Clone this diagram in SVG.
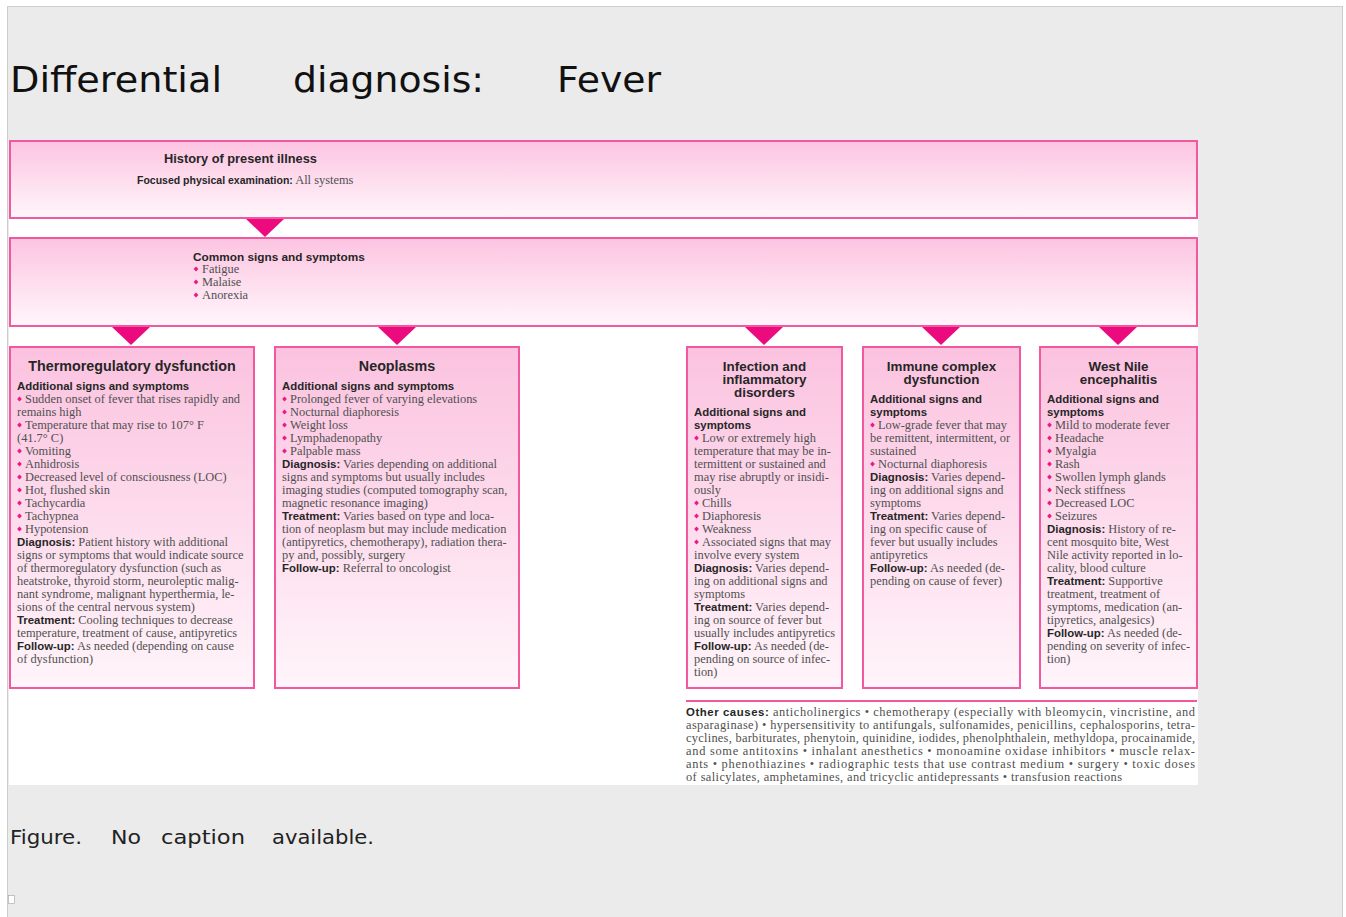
<svg xmlns="http://www.w3.org/2000/svg" xmlns:xlink="http://www.w3.org/1999/xlink" width="1346" height="917" viewBox="0 0 1346 917">
  <defs>
    <linearGradient id="gHead" x1="0" y1="0" x2="0" y2="1">
      <stop offset="0" stop-color="#fcc4e1"/>
      <stop offset="1" stop-color="#fff6fa"/>
    </linearGradient>
    <linearGradient id="gBox" x1="0" y1="0" x2="0" y2="1">
      <stop offset="0" stop-color="#fbc2df"/>
      <stop offset="1" stop-color="#fff5fa"/>
    </linearGradient>
    <path id="dot" d="M0,-2.4L2.4,0L0,2.4L-2.4,0Z" fill="#ec1a84"/>
  </defs>
  <style>
    .page{fill:#ebebeb;stroke:#cdcdcd;stroke-width:1}
    .box{fill:url(#gBox);stroke:#f2579f;stroke-width:2}
    .head{fill:url(#gHead);stroke:#f2579f;stroke-width:2}
    .tri{fill:#ec0b7f}
    .rule{stroke:#f2579f;stroke-width:2}
    .title{font-family:'Liberation Sans',Arial,sans-serif;font-weight:bold;font-size:14.3px;fill:#262626;text-anchor:middle}
    .title2{font-family:'Liberation Sans',Arial,sans-serif;font-weight:bold;font-size:13.4px;fill:#262626;text-anchor:middle}
    .lab{font-family:'Liberation Sans',Arial,sans-serif;font-weight:bold;font-size:11.4px;fill:#262626}
    .body{font-family:'Liberation Serif','Times New Roman',serif;font-size:12.4px;fill:#505050}
    .big{font-family:'DejaVu Sans',Verdana,sans-serif;font-size:35px;fill:#111}
    .cap{font-family:'DejaVu Sans',Verdana,sans-serif;font-size:20px;fill:#222}
  </style>

  <!-- page -->
  <rect x="0" y="0" width="1346" height="917" fill="#ffffff"/>
  <rect class="page" x="7.5" y="6.5" width="1335" height="920"/>
  <text class="big" y="92"><tspan x="10" textLength="212" lengthAdjust="spacingAndGlyphs">Differential</tspan><tspan x="293" textLength="191" lengthAdjust="spacingAndGlyphs">diagnosis:</tspan><tspan x="557" textLength="104" lengthAdjust="spacingAndGlyphs">Fever</tspan></text>

  <!-- figure area -->
  <rect x="9" y="140" width="1189" height="645" fill="#ffffff"/>

  <!-- connectors -->
  <g id="connectors">
    <polygon class="tri" points="246,219 284,219 265,237"/>
    <polygon class="tri" points="112,327 150,327 131,345"/>
    <polygon class="tri" points="378,327 416,327 397,345"/>
    <polygon class="tri" points="745,327 783,327 764,345"/>
    <polygon class="tri" points="922,327 960,327 941,345"/>
    <polygon class="tri" points="1099,327 1137,327 1118,345"/>
  </g>

  <g id="history">
    <rect class="head" x="10" y="141" width="1187" height="77"/>
    <text class="lab" x="164" y="163" style="font-size:12.8px">History of present illness</text>
    <text class="body" x="137" y="184"><tspan class="lab" style="font-size:10.5px">Focused physical examination:</tspan> All systems</text>
  </g>

  <g id="common">
    <rect class="head" x="10" y="238" width="1187" height="88"/>
    <text class="lab" x="193" y="261" style="font-size:11.8px">Common signs and symptoms</text>
    <use href="#dot" x="196" y="269"/>
    <use href="#dot" x="196" y="282"/>
    <use href="#dot" x="196" y="295"/>
    <text class="body" x="202" y="273">Fatigue</text>
    <text class="body" x="202" y="286">Malaise</text>
    <text class="body" x="202" y="299">Anorexia</text>
  </g>

  <g id="thermoregulatory">
    <rect class="box" x="10" y="347" width="244" height="341"/>
    <text class="title" x="132" y="371">Thermoregulatory dysfunction</text>
    <text class="lab" x="17" y="390">Additional signs and symptoms</text>
    <use href="#dot" x="19.5" y="399"/>
    <use href="#dot" x="19.5" y="425"/>
    <use href="#dot" x="19.5" y="451"/>
    <use href="#dot" x="19.5" y="464"/>
    <use href="#dot" x="19.5" y="477"/>
    <use href="#dot" x="19.5" y="490"/>
    <use href="#dot" x="19.5" y="503"/>
    <use href="#dot" x="19.5" y="516"/>
    <use href="#dot" x="19.5" y="529"/>
    <text class="body" x="25" y="403">Sudden onset of fever that rises rapidly and</text>
    <text class="body" x="17" y="416">remains high</text>
    <text class="body" x="25" y="429">Temperature that may rise to 107° F</text>
    <text class="body" x="17" y="442">(41.7° C)</text>
    <text class="body" x="25" y="455">Vomiting</text>
    <text class="body" x="25" y="468">Anhidrosis</text>
    <text class="body" x="25" y="481">Decreased level of consciousness (LOC)</text>
    <text class="body" x="25" y="494">Hot, flushed skin</text>
    <text class="body" x="25" y="507">Tachycardia</text>
    <text class="body" x="25" y="520">Tachypnea</text>
    <text class="body" x="25" y="533">Hypotension</text>
    <text class="body" x="17" y="546"><tspan class="lab">Diagnosis:</tspan> Patient history with additional</text>
    <text class="body" x="17" y="559">signs or symptoms that would indicate source</text>
    <text class="body" x="17" y="572">of thermoregulatory dysfunction (such as</text>
    <text class="body" x="17" y="585">heatstroke, thyroid storm, neuroleptic malig-</text>
    <text class="body" x="17" y="598">nant syndrome, malignant hyperthermia, le-</text>
    <text class="body" x="17" y="611">sions of the central nervous system)</text>
    <text class="body" x="17" y="624"><tspan class="lab">Treatment:</tspan> Cooling techniques to decrease</text>
    <text class="body" x="17" y="637">temperature, treatment of cause, antipyretics</text>
    <text class="body" x="17" y="650"><tspan class="lab">Follow-up:</tspan> As needed (depending on cause</text>
    <text class="body" x="17" y="663">of dysfunction)</text>
  </g>

  <g id="neoplasms">
    <rect class="box" x="275" y="347" width="244" height="341"/>
    <text class="title" x="397" y="371">Neoplasms</text>
    <text class="lab" x="282" y="390">Additional signs and symptoms</text>
    <use href="#dot" x="284.5" y="399"/>
    <use href="#dot" x="284.5" y="412"/>
    <use href="#dot" x="284.5" y="425"/>
    <use href="#dot" x="284.5" y="438"/>
    <use href="#dot" x="284.5" y="451"/>
    <text class="body" x="290" y="403">Prolonged fever of varying elevations</text>
    <text class="body" x="290" y="416">Nocturnal diaphoresis</text>
    <text class="body" x="290" y="429">Weight loss</text>
    <text class="body" x="290" y="442">Lymphadenopathy</text>
    <text class="body" x="290" y="455">Palpable mass</text>
    <text class="body" x="282" y="468"><tspan class="lab">Diagnosis:</tspan> Varies depending on additional</text>
    <text class="body" x="282" y="481">signs and symptoms but usually includes</text>
    <text class="body" x="282" y="494">imaging studies (computed tomography scan,</text>
    <text class="body" x="282" y="507">magnetic resonance imaging)</text>
    <text class="body" x="282" y="520"><tspan class="lab">Treatment:</tspan> Varies based on type and loca-</text>
    <text class="body" x="282" y="533">tion of neoplasm but may include medication</text>
    <text class="body" x="282" y="546">(antipyretics, chemotherapy), radiation thera-</text>
    <text class="body" x="282" y="559">py and, possibly, surgery</text>
    <text class="body" x="282" y="572"><tspan class="lab">Follow-up:</tspan> Referral to oncologist</text>
  </g>

  <g id="infection">
    <rect class="box" x="687" y="347" width="155" height="341"/>
    <text class="title2" x="764.5"><tspan x="764.5" y="371">Infection and</tspan><tspan x="764.5" y="384">inflammatory</tspan><tspan x="764.5" y="397">disorders</tspan></text>
    <text class="lab" x="694" y="416">Additional signs and</text>
    <text class="lab" x="694" y="429">symptoms</text>
    <use href="#dot" x="696.5" y="438"/>
    <use href="#dot" x="696.5" y="503"/>
    <use href="#dot" x="696.5" y="516"/>
    <use href="#dot" x="696.5" y="529"/>
    <use href="#dot" x="696.5" y="542"/>
    <text class="body" x="702" y="442">Low or extremely high</text>
    <text class="body" x="694" y="455">temperature that may be in-</text>
    <text class="body" x="694" y="468">termittent or sustained and</text>
    <text class="body" x="694" y="481">may rise abruptly or insidi-</text>
    <text class="body" x="694" y="494">ously</text>
    <text class="body" x="702" y="507">Chills</text>
    <text class="body" x="702" y="520">Diaphoresis</text>
    <text class="body" x="702" y="533">Weakness</text>
    <text class="body" x="702" y="546">Associated signs that may</text>
    <text class="body" x="694" y="559">involve every system</text>
    <text class="body" x="694" y="572"><tspan class="lab">Diagnosis:</tspan> Varies depend-</text>
    <text class="body" x="694" y="585">ing on additional signs and</text>
    <text class="body" x="694" y="598">symptoms</text>
    <text class="body" x="694" y="611"><tspan class="lab">Treatment:</tspan> Varies depend-</text>
    <text class="body" x="694" y="624">ing on source of fever but</text>
    <text class="body" x="694" y="637">usually includes antipyretics</text>
    <text class="body" x="694" y="650"><tspan class="lab">Follow-up:</tspan> As needed (de-</text>
    <text class="body" x="694" y="663">pending on source of infec-</text>
    <text class="body" x="694" y="676">tion)</text>
  </g>

  <g id="immune">
    <rect class="box" x="863" y="347" width="157" height="341"/>
    <text class="title2" x="941.5"><tspan x="941.5" y="371">Immune complex</tspan><tspan x="941.5" y="384">dysfunction</tspan></text>
    <text class="lab" x="870" y="403">Additional signs and</text>
    <text class="lab" x="870" y="416">symptoms</text>
    <use href="#dot" x="872.5" y="425"/>
    <use href="#dot" x="872.5" y="464"/>
    <text class="body" x="878" y="429">Low-grade fever that may</text>
    <text class="body" x="870" y="442">be remittent, intermittent, or</text>
    <text class="body" x="870" y="455">sustained</text>
    <text class="body" x="878" y="468">Nocturnal diaphoresis</text>
    <text class="body" x="870" y="481"><tspan class="lab">Diagnosis:</tspan> Varies depend-</text>
    <text class="body" x="870" y="494">ing on additional signs and</text>
    <text class="body" x="870" y="507">symptoms</text>
    <text class="body" x="870" y="520"><tspan class="lab">Treatment:</tspan> Varies depend-</text>
    <text class="body" x="870" y="533">ing on specific cause of</text>
    <text class="body" x="870" y="546">fever but usually includes</text>
    <text class="body" x="870" y="559">antipyretics</text>
    <text class="body" x="870" y="572"><tspan class="lab">Follow-up:</tspan> As needed (de-</text>
    <text class="body" x="870" y="585">pending on cause of fever)</text>
  </g>

  <g id="west-nile">
    <rect class="box" x="1040" y="347" width="157" height="341"/>
    <text class="title2" x="1118.5"><tspan x="1118.5" y="371">West Nile</tspan><tspan x="1118.5" y="384">encephalitis</tspan></text>
    <text class="lab" x="1047" y="403">Additional signs and</text>
    <text class="lab" x="1047" y="416">symptoms</text>
    <use href="#dot" x="1049.5" y="425"/>
    <use href="#dot" x="1049.5" y="438"/>
    <use href="#dot" x="1049.5" y="451"/>
    <use href="#dot" x="1049.5" y="464"/>
    <use href="#dot" x="1049.5" y="477"/>
    <use href="#dot" x="1049.5" y="490"/>
    <use href="#dot" x="1049.5" y="503"/>
    <use href="#dot" x="1049.5" y="516"/>
    <text class="body" x="1055" y="429">Mild to moderate fever</text>
    <text class="body" x="1055" y="442">Headache</text>
    <text class="body" x="1055" y="455">Myalgia</text>
    <text class="body" x="1055" y="468">Rash</text>
    <text class="body" x="1055" y="481">Swollen lymph glands</text>
    <text class="body" x="1055" y="494">Neck stiffness</text>
    <text class="body" x="1055" y="507">Decreased LOC</text>
    <text class="body" x="1055" y="520">Seizures</text>
    <text class="body" x="1047" y="533"><tspan class="lab">Diagnosis:</tspan> History of re-</text>
    <text class="body" x="1047" y="546">cent mosquito bite, West</text>
    <text class="body" x="1047" y="559">Nile activity reported in lo-</text>
    <text class="body" x="1047" y="572">cality, blood culture</text>
    <text class="body" x="1047" y="585"><tspan class="lab">Treatment:</tspan> Supportive</text>
    <text class="body" x="1047" y="598">treatment, treatment of</text>
    <text class="body" x="1047" y="611">symptoms, medication (an-</text>
    <text class="body" x="1047" y="624">tipyretics, analgesics)</text>
    <text class="body" x="1047" y="637"><tspan class="lab">Follow-up:</tspan> As needed (de-</text>
    <text class="body" x="1047" y="650">pending on severity of infec-</text>
    <text class="body" x="1047" y="663">tion)</text>
  </g>

  <g id="other-causes">
    <line class="rule" x1="686" y1="701" x2="1197" y2="701"/>
    <text class="body" x="686" y="716" textLength="509" lengthAdjust="spacing"><tspan class="lab">Other causes:</tspan> anticholinergics  •  chemotherapy (especially with bleomycin, vincristine, and</text>
    <text class="body" x="686" y="729" textLength="509" lengthAdjust="spacing">asparaginase)  •  hypersensitivity to antifungals, sulfonamides, penicillins, cephalosporins, tetra-</text>
    <text class="body" x="686" y="742" textLength="509" lengthAdjust="spacing">cyclines, barbiturates, phenytoin, quinidine, iodides, phenolphthalein, methyldopa, procainamide,</text>
    <text class="body" x="686" y="755" textLength="509" lengthAdjust="spacing">and some antitoxins  •  inhalant anesthetics  •  monoamine oxidase inhibitors  •  muscle relax-</text>
    <text class="body" x="686" y="768" textLength="509" lengthAdjust="spacing">ants  •  phenothiazines  •  radiographic tests that use contrast medium  •  surgery  •  toxic doses</text>
    <text class="body" x="686" y="781" textLength="436" lengthAdjust="spacing">of salicylates, amphetamines, and tricyclic antidepressants  •  transfusion reactions</text>
  </g>

  <!-- caption -->
  <text class="cap" y="844"><tspan x="10" textLength="72" lengthAdjust="spacingAndGlyphs">Figure.</tspan><tspan x="111" textLength="30" lengthAdjust="spacingAndGlyphs">No</tspan><tspan x="161" textLength="84" lengthAdjust="spacingAndGlyphs">caption</tspan><tspan x="272" textLength="102" lengthAdjust="spacingAndGlyphs">available.</tspan></text>
  <rect x="8.5" y="895.5" width="6" height="8" fill="#ffffff" stroke="#a0a0a0" stroke-width="0.6"/>
</svg>
